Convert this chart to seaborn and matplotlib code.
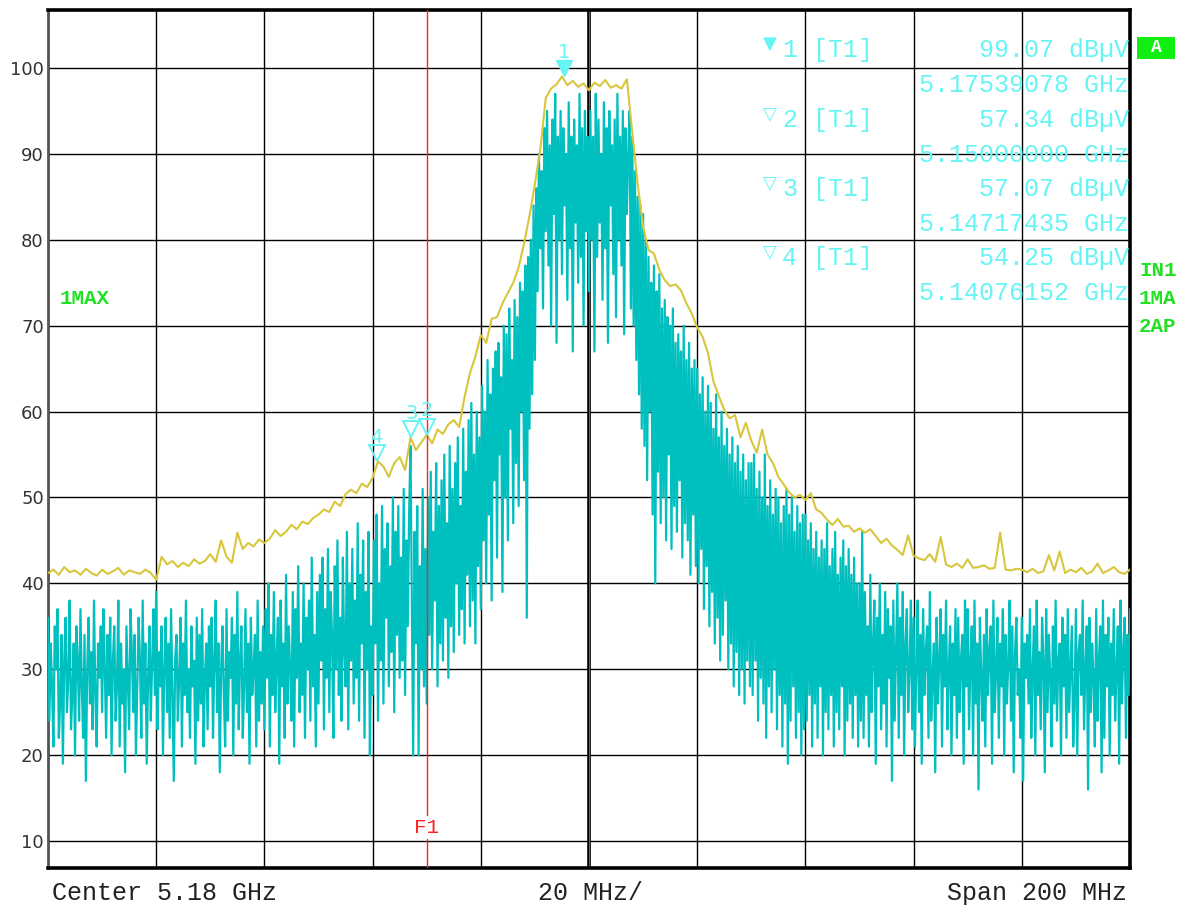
import numpy as np
import pandas as pd
import matplotlib
matplotlib.use("Agg")
import matplotlib.pyplot as plt
import matplotlib.transforms as mtransforms
from matplotlib.patches import Rectangle
import seaborn as sns

# ---------------- data ----------------
START_GHZ = 5.08
STOP_GHZ = 5.28
CENTER_LABEL = "Center 5.18 GHz"
DIV_LABEL = "20 MHz/"
SPAN_LABEL = "Span 200 MHz"
F1_GHZ = 5.15

y_ticks = [10, 20, 30, 40, 50, 60, 70, 80, 90, 100]
x_grid_ghz = [5.08, 5.10, 5.12, 5.14, 5.16, 5.18, 5.20, 5.22, 5.24, 5.26, 5.28]

# Trace 1 (max hold), one value per MHz, 5.08 .. 5.28 GHz
trace1_max = [
    41.2, 41.6, 41.0, 41.9, 41.3, 41.5, 41.0, 41.7, 41.2, 40.9,
    41.6, 41.1, 41.4, 41.8, 41.0, 41.5, 41.3, 41.1, 41.6, 41.2,
    40.4, 43.1, 42.2, 42.6, 41.9, 42.4, 42.0, 42.8, 42.3, 42.6,
    43.4, 42.5, 45.0, 43.1, 42.4, 45.9, 44.0, 44.7, 44.3, 45.1,
    44.7, 45.2, 46.2, 45.5, 46.0, 46.8, 46.3, 47.2, 46.9, 47.6,
    48.0, 48.6, 48.3, 49.5, 49.0, 50.4, 50.9, 50.5, 51.6, 51.2,
    52.3, 54.2, 53.6, 52.4, 54.0, 54.7, 53.2, 57.0, 55.5, 56.4,
    57.3, 56.3, 57.9, 57.4, 58.5, 59.0, 58.2, 61.7, 64.5, 66.4,
    68.9, 68.0, 70.8, 71.0, 72.6, 73.8, 75.0, 76.8, 79.6, 82.8,
    86.5, 90.5, 96.5, 97.6, 98.1, 99.0, 98.0, 98.5, 97.8, 98.2,
    97.4, 98.3, 97.9, 98.6, 97.7, 98.0, 97.6, 98.7, 92.5, 86.5,
    81.5, 78.8, 78.4, 76.5, 75.3, 74.6, 74.8, 74.1, 72.6, 71.4,
    69.8, 68.7, 66.8, 63.5, 61.8, 60.2, 59.2, 59.6, 57.0, 58.7,
    56.6, 55.2, 57.9, 55.0, 54.0, 52.4, 51.5, 50.6, 50.0, 50.3,
    49.7, 50.5, 48.6, 48.2, 47.4, 46.8, 47.5, 46.6, 46.7, 46.0,
    46.4, 45.9, 46.3, 45.5, 44.7, 45.2, 44.4, 43.9, 43.3, 45.6,
    43.2, 42.9, 42.7, 43.4, 42.5, 45.4, 42.2, 41.9, 42.3, 41.8,
    42.8, 41.8, 41.9, 42.1, 41.7, 41.8, 45.9, 41.6, 41.5, 41.7,
    41.6, 41.3, 41.7, 41.2, 41.4, 43.3, 41.5, 43.7, 41.2, 41.6,
    41.3, 41.8, 41.1, 41.4, 42.3, 41.2, 41.5, 41.9, 41.3, 41.1,
    41.6,
]

# Trace 2 (average), one value per 0.25 MHz, 5.08 .. 5.28 GHz
trace2_ap = [
    36, 24, 33, 28, 21, 35, 30, 37, 22, 26, 34, 19, 31, 36, 25, 29, 38, 23, 27, 33,
    20, 35, 31, 24, 37, 28, 22, 34, 17, 30, 36, 26, 32, 23, 38, 27, 21, 33, 29, 35,
    25, 37, 30, 22, 34, 27, 36, 20, 31, 35, 24, 28, 38, 21, 33, 26, 30, 18, 35, 29,
    23, 37, 32, 25, 34, 20, 28, 36, 31, 22, 38, 26, 33, 19, 29, 35, 24, 31, 37, 27,
    39, 23, 32, 28, 35, 20, 30, 36, 25, 33, 22, 37, 27, 17, 31, 34, 24, 29, 36, 21,
    33, 27, 38, 25, 30, 22, 35, 28, 31, 19, 36, 24, 34, 26, 37, 21, 29, 33, 23, 35,
    28, 36, 22, 31, 38, 25, 33, 18, 30, 35, 27, 21, 37, 24, 32, 29, 36, 20, 34, 26,
    39, 23, 31, 35, 22, 28, 37, 25, 33, 19, 36, 27, 30, 34, 21, 38, 24, 32, 26, 35,
    23, 37, 29, 40, 21, 34, 27, 39, 25, 31, 36, 19, 38, 28, 33, 22, 41, 26, 35, 30,
    24, 39, 21, 37, 29, 42, 25, 33, 27, 40, 22, 36, 30, 38, 24, 43, 28, 34, 21, 39,
    26, 41, 31, 43, 23, 37, 29, 44, 25, 39, 34, 22, 42, 30, 45, 27, 36, 24, 43, 32,
    28, 46, 23, 40, 31, 44, 26, 38, 29, 47, 24, 41, 33, 45, 22, 39, 30, 46, 20, 35,
    27, 45, 33, 48, 24, 40, 31, 49, 26, 44, 36, 47, 28, 42, 32, 50, 25, 46, 34, 49,
    29, 43, 31, 51, 27, 45, 35, 48, 56, 38, 20, 46, 33, 49, 20, 42, 30, 51, 28, 44,
    26, 50, 34, 53, 30, 46, 38, 54, 28, 49, 33, 52, 31, 55, 36, 47, 29, 56, 35, 51,
    32, 54, 40, 57, 34, 49, 37, 58, 33, 53, 41, 59, 35, 61, 38, 55, 33, 60, 42, 57,
    37, 63, 45, 60, 40, 66, 48, 62, 38, 65, 52, 67, 43, 68, 55, 64, 39, 70, 50, 69,
    45, 72, 58, 66, 47, 73, 54, 71, 49, 75, 60, 74, 52, 77, 36, 78, 58, 80, 62, 84,
    66, 86, 74, 90, 79, 88, 72, 93, 81, 95, 77, 91, 70, 94, 83, 97, 68, 92, 80, 95,
    76, 93, 84, 90, 73, 96, 79, 92, 67, 94, 82, 91, 75, 97, 78, 93, 70, 95, 81, 92,
    74, 95, 80, 92, 67, 97, 78, 94, 82, 90, 73, 96, 79, 93, 68, 95, 84, 91, 76, 94,
    71, 97, 80, 92, 77, 95, 69, 93, 83, 90, 95, 72, 92, 70, 88, 66, 85, 62, 84, 58,
    83, 56, 80, 52, 78, 60, 75, 48, 77, 40, 74, 53, 76, 47, 72, 50, 73, 45, 71, 55,
    70, 44, 72, 49, 68, 46, 69, 52, 67, 43, 70, 47, 66, 45, 68, 41, 65, 48, 66, 42,
    65, 40, 62, 44, 64, 37, 60, 42, 63, 35, 61, 39, 58, 33, 62, 36, 57, 31, 60, 34,
    56, 38, 58, 30, 55, 33, 57, 28, 54, 32, 56, 27, 53, 30, 55, 26, 52, 31, 54, 28,
    54, 27, 55, 31, 51, 24, 53, 29, 50, 26, 55, 22, 49, 28, 52, 25, 48, 30, 51, 23,
    50, 27, 47, 21, 49, 26, 51, 19, 48, 24, 50, 28, 46, 22, 49, 25, 47, 20, 48, 23,
    48, 24, 45, 27, 47, 21, 44, 26, 46, 22, 43, 28, 45, 20, 44, 25, 47, 23, 42, 27,
    44, 21, 46, 25, 41, 23, 43, 28, 45, 20, 42, 24, 44, 26, 41, 22, 43, 27, 40, 21,
    40, 24, 46, 22, 39, 27, 35, 21, 41, 25, 33, 38, 19, 36, 28, 40, 23, 34, 26, 39,
    21, 37, 29, 35, 17, 38, 24, 32, 40, 22, 36, 27, 39, 20, 33, 37, 25, 30, 38, 23,
    36, 21, 30, 38, 25, 34, 19, 37, 27, 32, 35, 22, 39, 24, 29, 33, 18, 36, 26, 31,
    37, 21, 34, 28, 38, 23, 30, 35, 20, 33, 27, 37, 22, 36, 25, 31, 34, 19, 38, 28,
    37, 23, 31, 35, 20, 38, 26, 33, 16, 36, 29, 24, 34, 21, 37, 27, 32, 35, 19, 38,
    25, 30, 36, 22, 33, 28, 37, 20, 34, 26, 31, 38, 24, 35, 18, 32, 36, 27, 30, 22,
    36, 17, 33, 29, 34, 26, 37, 22, 30, 35, 20, 38, 27, 32, 23, 36, 31, 18, 37, 25,
    34, 29, 21, 35, 26, 38, 24, 31, 33, 20, 36, 28, 34, 22, 37, 25, 30, 35, 21, 26,
    37, 20, 32, 34, 27, 38, 23, 30, 35, 16, 36, 25, 33, 29, 21, 37, 24, 31, 35, 18,
    38, 22, 34, 28, 36, 20, 33, 27, 37, 24, 30, 35, 19, 38, 26, 32, 36, 22, 34, 27,
    37,
]

marker_ids = ["1", "2", "3", "4"]
marker_trace = ["T1", "T1", "T1", "T1"]
marker_freq_ghz = [5.17539078, 5.15000000, 5.14717435, 5.14076152]
marker_level = [99.07, 57.34, 57.07, 54.25]
marker_unit = "dB\u00b5V"

status_left = "1MAX"
status_right = ["IN1", "1MA", "2AP"]
screen_label = "A"

# ---------------- style ----------------
W, H = 1179, 905
CYAN = "#00BFBF"
YELLOW = "#D8C63C"
MCYAN = "#66F4F4"
GREEN = "#22E022"
MONO = ["Liberation Mono", "DejaVu Sans Mono"]

sns.set_theme(style="white")
plt.rcParams["font.family"] = ["DejaVu Sans"]

fig = plt.figure(figsize=(W / 100, H / 100), dpi=100)
fig.patch.set_facecolor("white")
ax = fig.add_axes([48 / W, 1 - 868 / H, (1130 - 48) / W, (868 - 10) / H])
ax.set_facecolor("white")

df1 = pd.DataFrame({"freq": np.linspace(START_GHZ, STOP_GHZ, len(trace1_max)),
                    "level": trace1_max})
df2 = pd.DataFrame({"freq": np.linspace(START_GHZ, STOP_GHZ, len(trace2_ap)),
                    "level": trace2_ap})

sns.lineplot(data=df2, x="freq", y="level", color=CYAN, linewidth=1.6,
             estimator=None, ax=ax, zorder=3)
sns.lineplot(data=df1, x="freq", y="level", color=YELLOW, linewidth=1.5,
             estimator=None, ax=ax, zorder=4)

ax.set_xlim(START_GHZ, STOP_GHZ)
ax.set_ylim(6.86, 106.75)
ax.set_xticks(x_grid_ghz)
ax.set_xticklabels([""] * len(x_grid_ghz))
ax.set_yticks(y_ticks)
ax.set_yticklabels([str(v) for v in y_ticks], fontsize=13, color="#333333")
ax.tick_params(axis="both", length=0, pad=3)
ax.set_xlabel("")
ax.set_ylabel("")
ax.set_axisbelow(True)
ax.grid(True, color="black", linewidth=1.0)
# centre line (double)
ax.axvline(x_grid_ghz[5], color="black", linewidth=2.6, zorder=1)
ax.axvline(x_grid_ghz[5], color="#777777", linewidth=0.6, zorder=1)

for side in ["top", "bottom", "right"]:
    ax.spines[side].set_color("black")
    ax.spines[side].set_linewidth(2.6)
ax.spines["left"].set_color("#555555")
ax.spines["left"].set_linewidth(2.0)

# F1 line
ax.axvline(F1_GHZ, ymin=0.062, ymax=1.0, color="#FF2020", linewidth=1.0, zorder=5)
ax.axvline(F1_GHZ, ymin=0.0, ymax=0.034, color="#FF2020", linewidth=1.0, zorder=5)
ax.text(F1_GHZ, 0.047, "F1", transform=ax.get_xaxis_transform(), ha="center",
        va="center", color="#FF2020", fontsize=15, family=MONO)

# markers on trace
tri_trans = mtransforms.offset_copy(ax.transData, fig=fig, x=0, y=5.5, units="points")
for i, (mid, f, lv) in enumerate(zip(marker_ids, marker_freq_ghz, marker_level)):
    if i == 0:
        ax.plot([f], [lv], marker="v", ms=11, color=MCYAN, mec=MCYAN,
                transform=tri_trans, zorder=6, linestyle="none")
    else:
        ax.plot([f], [lv], marker="v", ms=11, mfc="none", mec=MCYAN, mew=1.4,
                transform=tri_trans, zorder=6, linestyle="none")
    ax.annotate(mid, xy=(f, lv), xytext=(0, 17), textcoords="offset points",
                ha="center", va="center", color=MCYAN, fontsize=14, zorder=7)


def ftext(x, y, s, **kw):
    fig.text(x / W, 1 - y / H, s, **kw)


# marker table
row_y = [48, 118, 187, 256]
for i in range(len(marker_ids)):
    y0 = row_y[i]
    ftext(770, y0 - 4, "\u25bc" if i == 0 else "\u25bd", ha="center", va="center",
          color=MCYAN, fontsize=13, family=["DejaVu Sans"])
    ftext(782, y0 + 2, marker_ids[i], ha="left", va="center", color=MCYAN,
          fontsize=18, family=MONO)
    ftext(813, y0 + 2, f"[{marker_trace[i]}]", ha="left", va="center", color=MCYAN,
          fontsize=18, family=MONO)
    ftext(1129, y0 + 2, f"{marker_level[i]:.2f} {marker_unit}", ha="right",
          va="center", color=MCYAN, fontsize=18, family=MONO)
    ftext(1129, y0 + 37, f"{marker_freq_ghz[i]:.8f} GHz", ha="right", va="center",
          color=MCYAN, fontsize=18, family=MONO)

# bottom labels
ftext(52, 893, CENTER_LABEL, ha="left", va="center", fontsize=18, family=MONO,
      color="#222222")
ftext(591, 893, DIV_LABEL, ha="center", va="center", fontsize=18, family=MONO,
      color="#222222")
ftext(1127, 893, SPAN_LABEL, ha="right", va="center", fontsize=18, family=MONO,
      color="#222222")

# status labels
ftext(60, 298, status_left, ha="left", va="center", fontsize=15, family=MONO,
      color=GREEN, fontweight="bold")
for k, s in enumerate(status_right):
    ftext(1139, 270 + 28 * k, s, ha="left", va="center", fontsize=15, family=MONO,
          color=GREEN, fontweight="bold")

fig.patches.append(Rectangle((1137 / W, 1 - 59 / H), 38 / W, 22 / H,
                             transform=fig.transFigure, facecolor="#11EE11",
                             edgecolor="none"))
ftext(1156, 48, screen_label, ha="center", va="center", fontsize=13, family=MONO,
      color="white", fontweight="bold")

fig.savefig("out.png", dpi=100, facecolor="white")
